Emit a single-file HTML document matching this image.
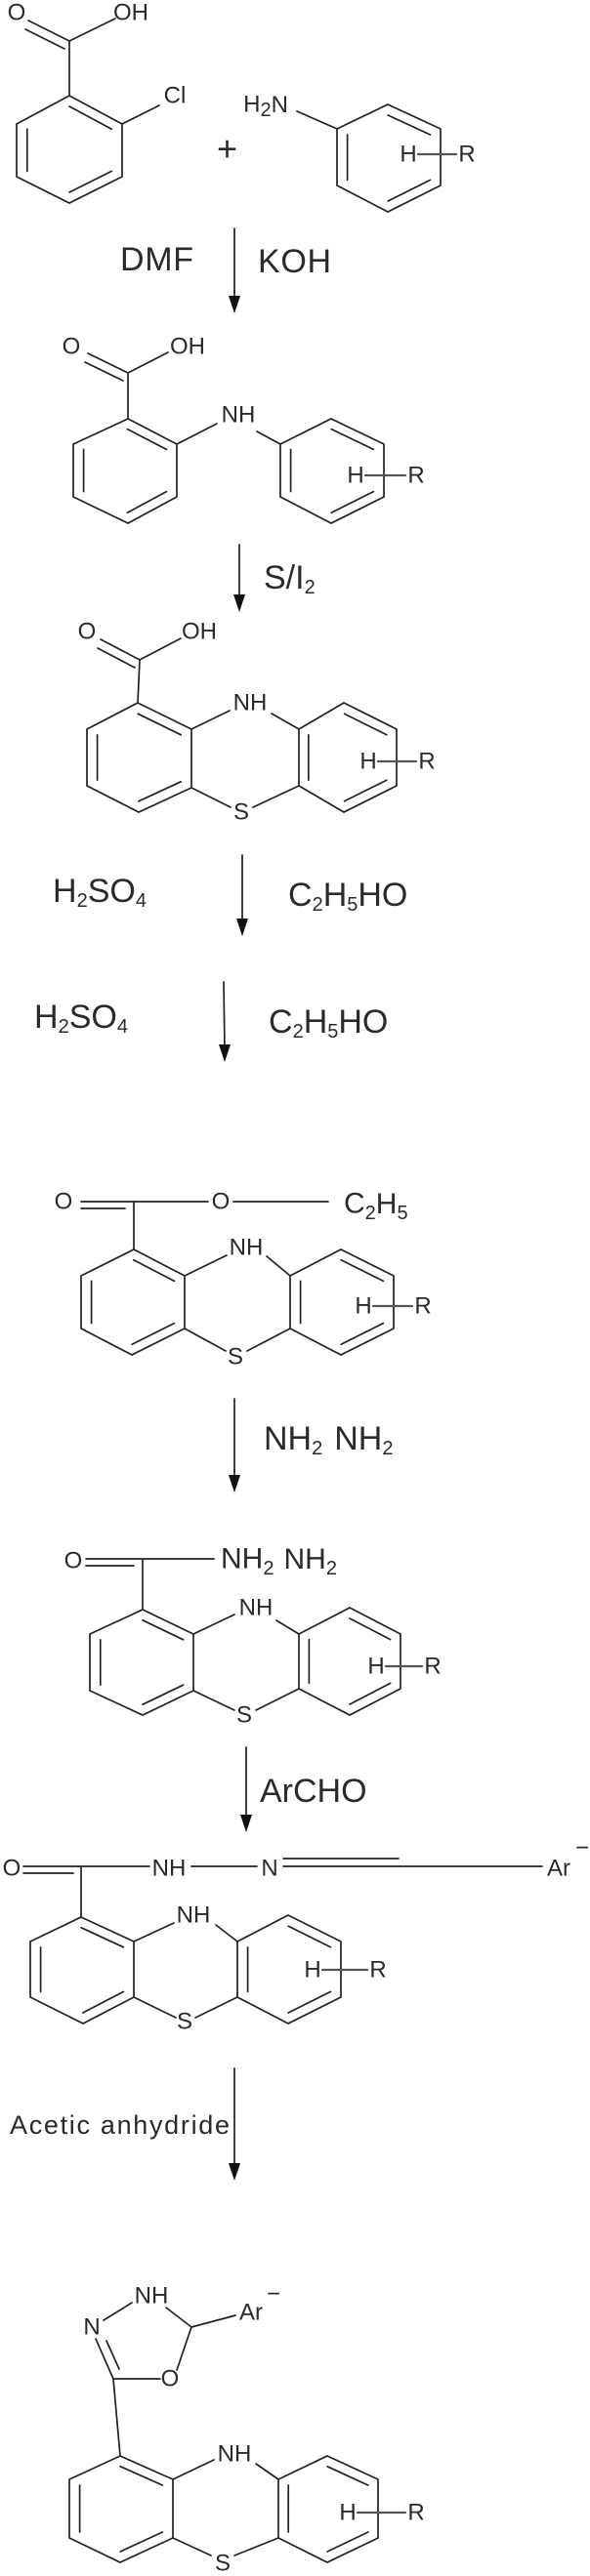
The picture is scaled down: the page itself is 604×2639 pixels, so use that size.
<!DOCTYPE html>
<html><head><meta charset="utf-8"><style>
html,body{margin:0;padding:0;background:#fff}
svg{display:block}
text{font-family:"Liberation Sans",Arial,sans-serif;fill:#2a2a2a}
.a{font-size:24px;text-anchor:middle;dominant-baseline:central}
.r{font-size:34px;dominant-baseline:central}
.sub{font-size:20px}
</style></head><body>
<svg width="604" height="2639" viewBox="0 0 604 2639" xmlns="http://www.w3.org/2000/svg">
<defs>
<g id="hr"></g>
</defs>
<g stroke="#222" stroke-width="1.7" fill="none" stroke-linecap="round">
<!-- rings -->
<polygon points="71,98 125,127 125,181 71,208 17,181 17,127"/>
<path transform="translate(71,153) scale(0.8) translate(-71,-153)" vector-effect="non-scaling-stroke" d="M71,98L125,127M125,181L71,208M17,181L17,127"/>
<polygon points="397,107 451,132 451,190 397,217 345,190 345,132"/>
<path transform="translate(398,162) scale(0.8) translate(-398,-162)" vector-effect="non-scaling-stroke" d="M397,107L451,132M451,190L397,217M345,190L345,132"/>
<polygon points="131,429 181,455 181,509 131,536 75,509 75,455"/>
<path transform="translate(128,482) scale(0.8) translate(-128,-482)" vector-effect="non-scaling-stroke" d="M131,429L181,455M181,509L131,536M75,509L75,455"/>
<polygon points="339,429 393,455 393,509 339,536 287,509 287,455"/>
<path transform="translate(340,482) scale(0.8) translate(-340,-482)" vector-effect="non-scaling-stroke" d="M339,429L393,455M393,509L339,536M287,509L287,455"/>
<polygon points="141,720 196,747 196,807 142,832 89,805 89,747"/>
<path transform="translate(142,776) scale(0.8) translate(-142,-776)" vector-effect="non-scaling-stroke" d="M141,720L196,747M196,807L142,832M89,805L89,747"/>
<polygon points="352,720 406,747 406,805 352,832 306,805 306,747"/>
<path transform="translate(355,776) scale(0.8) translate(-355,-776)" vector-effect="non-scaling-stroke" d="M352,720L406,747M406,805L352,832M306,805L306,747"/>
<polygon points="137,1280 189,1307 189,1361 135,1388 83,1361 83,1307"/>
<path transform="translate(136,1334) scale(0.8) translate(-136,-1334)" vector-effect="non-scaling-stroke" d="M137,1280L189,1307M189,1361L135,1388M83,1361L83,1307"/>
<polygon points="349,1280 403,1307 403,1361 349,1388 297,1361 297,1307"/>
<path transform="translate(350,1334) scale(0.8) translate(-350,-1334)" vector-effect="non-scaling-stroke" d="M349,1280L403,1307M403,1361L349,1388M297,1361L297,1307"/>
<polygon points="146,1649 198,1674 198,1732 146,1757 92,1732 92,1674"/>
<path transform="translate(146,1703) scale(0.8) translate(-146,-1703)" vector-effect="non-scaling-stroke" d="M146,1649L198,1674M198,1732L146,1757M92,1732L92,1674"/>
<polygon points="358,1647 410,1674 410,1730 358,1757 306,1730 306,1674"/>
<path transform="translate(358,1702) scale(0.8) translate(-358,-1702)" vector-effect="non-scaling-stroke" d="M358,1647L410,1674M410,1730L358,1757M306,1730L306,1674"/>
<polygon points="83,1964 137,1989 137,2046 85,2073 31,2046 31,1989"/>
<path transform="translate(84,2018) scale(0.8) translate(-84,-2018)" vector-effect="non-scaling-stroke" d="M83,1964L137,1989M137,2046L85,2073M31,2046L31,1989"/>
<polygon points="295,1962 349,1989 349,2046 295,2073 243,2046 243,1989"/>
<path transform="translate(296,2018) scale(0.8) translate(-296,-2018)" vector-effect="non-scaling-stroke" d="M295,1962L349,1989M349,2046L295,2073M243,2046L243,1989"/>
<polygon points="123,2516 177,2540 177,2600 123,2625 71,2600 71,2540"/>
<path transform="translate(124,2570) scale(0.8) translate(-124,-2570)" vector-effect="non-scaling-stroke" d="M123,2516L177,2540M177,2600L123,2625M71,2600L71,2540"/>
<polygon points="335,2516 387,2540 387,2600 335,2625 285,2600 285,2540"/>
<path transform="translate(336,2570) scale(0.8) translate(-336,-2570)" vector-effect="non-scaling-stroke" d="M335,2516L387,2540M387,2600L335,2625M285,2600L285,2540"/>

<!-- S1 -->
<path d="M71,42L71,98M71,42L118,19M71,42L29,21M66,50L26,30M125,127L163,108M304,114L345,132"/>
<!-- S2 -->
<path d="M131,382L131,429M131,382L172,361M131,382L90,362M126,390L87,371M181,455L222,434M263,442L287,455"/>
<!-- S3 -->
<path d="M143,676L141,720M143,676L185,654M143,676L103,655M138,684L100,664M196,747L235,728M278,731L306,747M196,807L236,827M259,827L306,805"/>
<!-- S4 -->
<path d="M83,1231L137,1231M83,1238L128,1238M137,1231L213,1231M239,1231L336,1231M137,1231L137,1280M189,1307L232,1286M273,1287L297,1307M189,1361L231,1384M253,1384L297,1361"/>
<!-- S5 -->
<path d="M88,1597L146,1597M88,1604L137,1604M146,1597L219,1597M146,1597L146,1649M198,1674L240,1654M283,1660L306,1674M198,1732L240,1752M262,1752L306,1730"/>
<!-- S6 -->
<path d="M24,1912L83,1912M24,1919L75,1919M83,1912L153,1912M196,1912L263,1912M290,1912L555,1912M290,1904L408,1904M83,1912L83,1964M137,1989L178,1970M221,1972L243,1989M137,2046L180,2067M200,2067L243,2046"/>
<!-- S7 -->
<path d="M106,2377L135,2359M170,2364L196,2384M196,2384L241,2372M196,2384L181,2428M164,2437L116,2437M116,2437L98,2396M122,2427L109,2398M116,2437L123,2516M177,2540L219,2520M262,2524L285,2540M177,2600L216,2618M240,2618L285,2600"/>
<!-- H-R bonds -->
<path stroke="#555" stroke-width="2.2" d="M428,158L467,158M374,487L415,487M387,780L426,780M382,1338L422,1338M395,1707L432,1707M330,2018L376,2018M366,2574L415,2574"/>
<!-- arrows shafts -->
<path d="M240,234L240,308M245,558L245,614M248,876L248,946M229,1006L230,1075M240,1433L240,1516M252,1790L252,1864M240,2119L240,2221"/>
</g>
<g fill="#111">
<polygon points="234,303 246,303 240,321"/>
<polygon points="239,609 251,609 245,627"/>
<polygon points="242,941 254,941 248,959"/>
<polygon points="224,1070 236,1070 230,1088"/>
<polygon points="234,1511 246,1511 240,1529"/>
<polygon points="246,1859 258,1859 252,1877"/>
<polygon points="234,2216 246,2216 240,2234"/>
</g>

<!-- labels -->
<text class="a" x="17" y="13">O</text><text class="a" x="134" y="13">OH</text>
<text class="a" x="179" y="98">Cl</text>
<text class="r" x="222" y="152" style="font-size:36px">+</text>
<text class="a" x="272" y="107">H<tspan class="sub" dy="6">2</tspan><tspan dy="-6">N</tspan></text>
<text class="a" x="418" y="158">H</text><text class="a" x="478" y="158">R</text>
<text class="r" x="123" y="266" textLength="75">DMF</text>
<text class="r" x="264" y="268" textLength="75">KOH</text>

<text class="a" x="73" y="355">O</text><text class="a" x="192" y="355">OH</text>
<text class="a" x="244" y="425">NH</text>
<text class="a" x="364" y="487">H</text><text class="a" x="426" y="487">R</text>
<text class="r" x="270" y="592">S/I<tspan class="sub" dy="10">2</tspan></text>

<text class="a" x="89" y="647">O</text><text class="a" x="204" y="647">OH</text>
<text class="a" x="256" y="720">NH</text><text class="a" x="247" y="832">S</text>
<text class="a" x="377" y="780">H</text><text class="a" x="437" y="780">R</text>
<text class="r" x="54" y="913">H<tspan class="sub" dy="10">2</tspan><tspan dy="-10">SO</tspan><tspan class="sub" dy="10">4</tspan></text>
<text class="r" x="295" y="917">C<tspan class="sub" dy="10">2</tspan><tspan dy="-10">H</tspan><tspan class="sub" dy="10">5</tspan><tspan dy="-10">HO</tspan></text>
<text class="r" x="35" y="1042">H<tspan class="sub" dy="10">2</tspan><tspan dy="-10">SO</tspan><tspan class="sub" dy="10">4</tspan></text>
<text class="r" x="275" y="1047">C<tspan class="sub" dy="10">2</tspan><tspan dy="-10">H</tspan><tspan class="sub" dy="10">5</tspan><tspan dy="-10">HO</tspan></text>

<text class="a" x="65" y="1231">O</text><text class="a" x="226" y="1231">O</text>
<text class="r" x="352" y="1233" style="font-size:30px">C<tspan class="sub" dy="10">2</tspan><tspan dy="-10">H</tspan><tspan class="sub" dy="10">5</tspan></text>
<text class="a" x="252" y="1278">NH</text><text class="a" x="241" y="1390">S</text>
<text class="a" x="372" y="1338">H</text><text class="a" x="433" y="1338">R</text>

<text class="r" x="270" y="1474">NH<tspan class="sub" dy="10">2</tspan><tspan dx="12" dy="-10">NH</tspan><tspan class="sub" dy="10">2</tspan></text>

<text class="a" x="75" y="1599">O</text>
<text class="r" x="226" y="1597" style="font-size:30px">NH<tspan class="sub" dy="10">2</tspan><tspan dx="10" dy="-10">NH</tspan><tspan class="sub" dy="10">2</tspan></text>
<text class="a" x="262" y="1647">NH</text><text class="a" x="250" y="1757">S</text>
<text class="a" x="385" y="1707">H</text><text class="a" x="443" y="1707">R</text>

<text class="r" x="266" y="1835">ArCHO</text>

<text class="a" x="12" y="1914">O</text><text class="a" x="173" y="1914">NH</text><text class="a" x="276" y="1914">N</text>
<text class="a" x="572" y="1914">Ar</text><text class="a" x="596" y="1893">−</text>
<text class="a" x="198" y="1962">NH</text><text class="a" x="189" y="2071">S</text>
<text class="a" x="320" y="2018">H</text><text class="a" x="387" y="2018">R</text>

<text x="10" y="2177" style="font-size:27px;dominant-baseline:central" textLength="225">Acetic anhydride</text>

<text class="a" x="155" y="2352">NH</text><text class="a" x="94" y="2384">N</text>
<text class="a" x="257" y="2369">Ar</text><text class="a" x="280" y="2350">−</text>
<text class="a" x="174" y="2437">O</text>
<text class="a" x="240" y="2514">NH</text><text class="a" x="228" y="2626">S</text>
<text class="a" x="356" y="2574">H</text><text class="a" x="426" y="2574">R</text>
</svg>
</body></html>
